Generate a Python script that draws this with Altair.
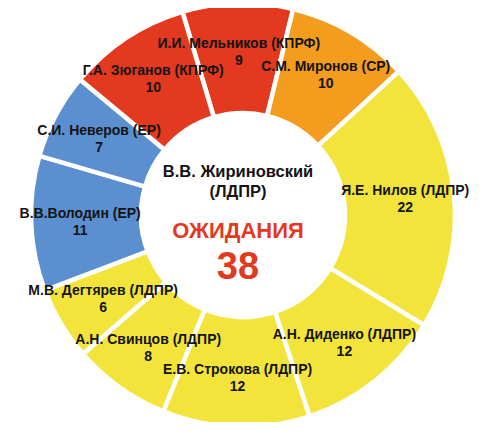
import math
import altair as alt
import pandas as pd

names = [
    "И.И. Мельников (КПРФ)",
    "С.М. Миронов (СР)",
    "Я.Е. Нилов (ЛДПР)",
    "А.Н. Диденко (ЛДПР)",
    "Е.В.  Строкова (ЛДПР)",
    "А.Н. Свинцов (ЛДПР)",
    "М.В. Дегтярев (ЛДПР)",
    "В.В.Володин (ЕР)",
    "С.И. Неверов (ЕР)",
    "Г.А. Зюганов (КПРФ)",
]
values = [9, 10, 22, 12, 12, 8, 6, 11, 7, 10]
parties = ["КПРФ", "СР", "ЛДПР", "ЛДПР", "ЛДПР", "ЛДПР", "ЛДПР", "ЕР", "ЕР", "КПРФ"]

party_domain = ["КПРФ", "СР", "ЛДПР", "ЕР"]
party_colors = ["#e2391f", "#f39c1e", "#f2e43a", "#5b8fd0"]

center_title = ["В.В. Жириновский", "(ЛДПР)"]
center_label = "ОЖИДАНИЯ"
center_value = "38"

df = pd.DataFrame({
    "idx": list(range(len(names))),
    "name": names,
    "value": values,
    "party": parties,
})
df["vtext"] = df["value"].astype(str)

start = math.radians(-16.6)
theta_scale = alt.Scale(range=[start, start + 2 * math.pi])

base = alt.Chart(df).encode(
    theta=alt.Theta("value:Q", stack=True, scale=theta_scale),
    order=alt.Order("idx:Q"),
)

arcs = base.mark_arc(
    outerRadius=212, innerRadius=102, stroke="white", strokeWidth=4.5
).encode(
    color=alt.Color("party:N", scale=alt.Scale(domain=party_domain, range=party_colors), legend=None)
)

lab_font = "Liberation Sans"
names_t = base.mark_text(
    radius=163, dy=-8, font=lab_font, fontSize=14, fontWeight="bold", color="#141414"
).encode(text="name:N")
vals_t = base.mark_text(
    radius=163, dy=9, font=lab_font, fontSize=14, fontWeight="bold", color="#141414"
).encode(text="vtext:N")

cdf = pd.DataFrame({"t": [0]})
def ctext(txt, dy, size, color):
    return alt.Chart(cdf).mark_text(
        text=txt, dy=dy, dx=-5, font=lab_font, fontSize=size, fontWeight="bold", color=color
    ).encode(x=alt.value(235), y=alt.value(207))

c1 = ctext(center_title[0], -43, 16.5, "#141414")
c2 = ctext(center_title[1], -23, 16.5, "#141414")
c3 = ctext(center_label, 16, 22, "#e2391f")
c4 = ctext(center_value, 53, 38, "#e2391f")

chart = alt.layer(arcs, names_t, vals_t, c1, c2, c3, c4).properties(
    width=470, height=414, autosize=alt.AutoSizeParams(type="none"), padding=0
).configure_view(stroke=None)

chart.save("out.html", embed_options={"renderer": "svg", "actions": False})
